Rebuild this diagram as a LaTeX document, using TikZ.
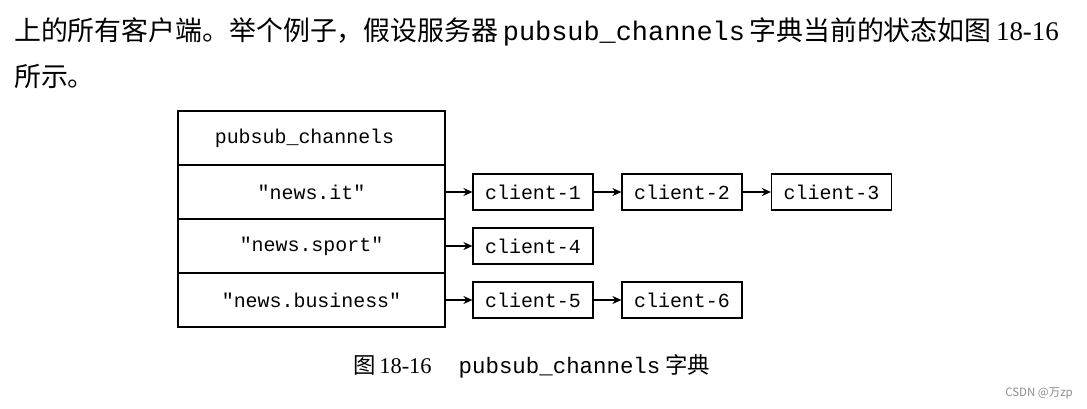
\documentclass[tikz,border=0pt]{standalone}
\usepackage{fontspec}
\usepackage{tikz}
\usetikzlibrary{shapes,arrows.meta}
\setmainfont{Liberation Serif}
\setmonofont{Liberation Mono}
\newfontfamily\cjk{Noto Sans CJK SC}
\definecolor{markgray}{rgb}{0.55, 0.55, 0.55}
\tikzstyle{dictrow}=[draw,line width=1.2bp,minimum width=267bp,minimum height=54bp,inner sep=0pt,font=\fontsize{20}{24}\selectfont\ttfamily]
\tikzstyle{clientbox}=[draw,line width=1.2bp,minimum width=120bp,minimum height=36bp,inner sep=0pt,font=\fontsize{20}{24}\selectfont\ttfamily]
\tikzstyle{link}=[line width=1.1bp,-{Stealth[length=9bp,width=8bp]}]
\newcommand{\client}[3]{
  \node[clientbox] (#1) at (#2, #3) {client-#1};
}

\begin{document}
\begin{tikzpicture}[x=1bp,y=-1bp]
\useasboundingbox (0,0) rectangle (1087,408);

% text above the figure
\node[anchor=base west,inner sep=0pt,font=\fontsize{27}{30}\selectfont] (line1) at (14, 40)
  {{\cjk 上的所有客户端。举个例子，假设服务器}\texttt{\,pubsub\_channels\,}{\cjk 字典当前的状态如图}\,18-16};
\node[anchor=base west,inner sep=0pt,font=\fontsize{27}{30}\selectfont] (line2) at (14, 86)
  {\cjk 所示。};

% the dictionary
\node[dictrow] (head) at (311.5, 138) {pubsub\_channels\hspace{14bp}\mbox{}};
\node[dictrow] (it) at (311.5, 192) {"news.it"};
\node[dictrow] (sport) at (311.5, 246) {"news.sport"};
\node[dictrow] (business) at (311.5, 300) {"news.business"};

\client{1}{533}{192};
\client{2}{682}{192};
\client{3}{831.5}{192};
\client{4}{533}{246};
\client{5}{533}{300};
\client{6}{682}{300};

\draw[link] (it) -- (1);
\draw[link] (1) -- (2);
\draw[link] (2) -- (3);
\draw[link] (sport) -- (4);
\draw[link] (business) -- (5);
\draw[link] (5) -- (6);

% caption
\node[anchor=base west,inner sep=0pt,font=\fontsize{22.5}{26}\selectfont] (caption) at (353, 373)
  {{\cjk 图}\,18-16\hspace{27bp}\texttt{pubsub\_channels}\hspace{5bp}{\cjk 字典}};

\node[anchor=base east,inner sep=0pt,text=markgray,font=\fontsize{11.5}{14}\selectfont\cjk] (mark) at (1073, 396) {CSDN @万zp};
\end{tikzpicture}
\end{document}
